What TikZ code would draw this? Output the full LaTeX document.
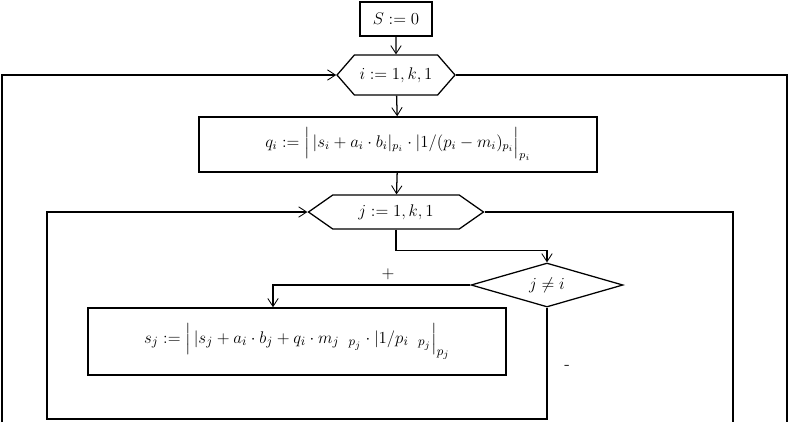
\documentclass[tikz,border=0pt]{standalone}
\usepackage{amsmath}
\usepackage{tikz}
\usetikzlibrary{arrows.meta, positioning, shapes.geometric, shapes.symbols}

\begin{document}
\begin{tikzpicture}[
  font=\large,
  line width=0.9pt,
  procbox/.style={draw, line width=1.1pt, inner sep=0pt, align=center},
  loophex/.style={draw, signal, signal to=west and east, inner sep=0pt},
  cond/.style={draw, diamond, aspect=3.4, inner sep=0pt},
  arr/.style={-{Straight Barb[length=2mm, width=2.6mm, line width=0.6pt]}},
  lbl/.style={font=\large}
]
\useasboundingbox (0,0) rectangle (19.725,-10.55);

% blocks
\node[procbox, minimum width=1.8cm, minimum height=0.85cm] (S) at (9.9,-0.475) {$S := 0$};
\node[loophex, minimum width=2.95cm, minimum height=1.0cm, signal pointer angle=98] (il) at (9.9,-1.875) {$i := 1, k, 1$};
\node[procbox, minimum width=9.95cm, minimum height=1.375cm] (q) at (9.95,-3.6125)
  {$q_i := \Bigl|\,|s_i + a_i\cdot b_i|_{p_i}\cdot |1/(p_i - m_i)_{p_i}\Bigr|_{p_i}$};
\node[loophex, minimum width=4.375cm, minimum height=0.85cm, signal pointer angle=70] (jl) at (9.9,-5.3) {$j := 1, k, 1$};
\node[cond, minimum width=3.8cm, minimum height=1.1cm] (c) at (13.675,-7.125) {$j \neq i$};
\node[procbox, minimum width=10.45cm, minimum height=1.675cm, font=\fontsize{13.2}{16}\selectfont] (s) at (7.425,-8.5375)
  {$s_j := \Bigl|\,|s_j + a_i\cdot b_j + q_i\cdot m_j\;\;{}_{p_j}\cdot |1/p_i\;\;{}_{p_j}\Bigr|_{p_j}$};

% loop ends
\coordinate (outerL) at (0.05,-10.55);
\coordinate (outerR) at (19.675,-10.55);
\coordinate (innerR) at (18.325,-10.55);
\coordinate (innerB) at (1.175,-10.475);

% connectors
\draw[arr] (S) -- (il);
\draw[arr] (il) -- (q);
\draw[arr] (q) -- (jl);
\draw[arr] (jl.south) -- ++(0,-0.525) -| (c.north);
\draw[arr] (c.west) -| ([xshift=-0.6cm]s.north);
\draw[arr] (c.south) |- (innerB) |- (jl.west);
\draw (jl.east) -| (innerR);
\draw[arr] (outerL) |- (il.west);
\draw (il.east) -| (outerR);

% labels
\node[lbl] (plus) at (9.7,-6.85) {$+$};
\node[lbl] (minus) at (14.175,-9.175) {-};

\end{tikzpicture}
\end{document}
